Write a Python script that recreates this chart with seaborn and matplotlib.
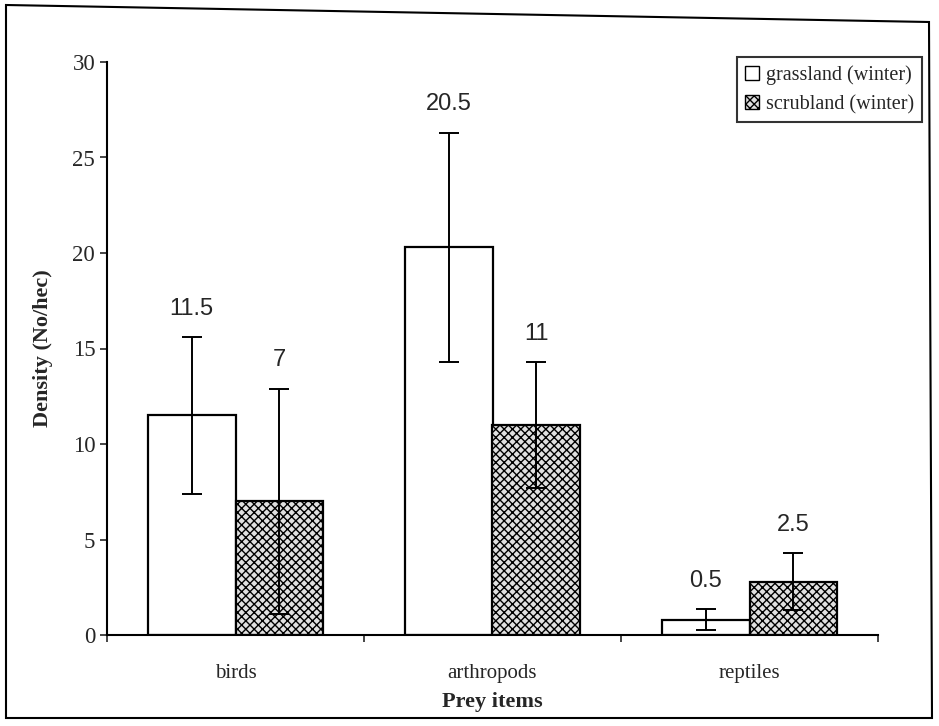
import numpy as np
import pandas as pd
import matplotlib
matplotlib.use("Agg")
import matplotlib.pyplot as plt
import seaborn as sns
from matplotlib.patches import Polygon, Patch

categories = ["birds", "arthropods", "reptiles"]
habitats = ["grassland (winter)", "scrubland (winter)"]
grass_mean = [11.5, 20.3, 0.8]
scrub_mean = [7.0, 11.0, 2.8]
grass_err = [4.1, 6.0, 0.55]
scrub_err = [5.9, 3.3, 1.5]
grass_lab = ["11.5", "20.5", "0.5"]
scrub_lab = ["7", "11", "2.5"]

df = pd.DataFrame({
    "item": categories * 2,
    "habitat": [habitats[0]] * 3 + [habitats[1]] * 3,
    "density": grass_mean + scrub_mean,
})

sns.set_style("white")
plt.rcParams["font.family"] = ["Liberation Serif", "DejaVu Serif"]
plt.rcParams["hatch.color"] = "#444444"
plt.rcParams["hatch.linewidth"] = 1.0

fig = plt.figure(figsize=(9.39, 7.26), dpi=100)
ax = fig.add_axes([107 / 939, 1 - 635 / 726, (878 - 107) / 939, (635 - 62) / 726])

sns.barplot(data=df, x="item", y="density", hue="habitat", order=categories,
            hue_order=habitats, palette=["white", "#e0e0e0"], width=0.68,
            edgecolor="black", linewidth=1.6, ax=ax, legend=False)

bars = ax.patches
for p in bars[3:6]:
    p.set_hatch("xxxx")

errs = grass_err + scrub_err
labs = grass_lab + scrub_lab
for p, e, lab in zip(bars[:6], errs, labs):
    xc = p.get_x() + p.get_width() / 2
    h = p.get_height()
    ax.errorbar(xc, h, yerr=e, fmt="none", ecolor="black", elinewidth=1.4,
                capsize=7, capthick=1.4)
    ax.text(xc, h + e + 0.9, lab, ha="center", va="bottom",
            fontsize=17, family="Liberation Sans")

ax.set_ylim(0, 30)
ax.set_xlim(-0.5, 2.5)
ax.set_yticks(range(0, 31, 5))
ax.set_xticks([-0.5, 0.5, 1.5, 2.5], minor=True)
ax.tick_params(axis="y", labelsize=16.5, length=5, direction="out", left=True, width=1.2)
ax.tick_params(axis="x", which="major", length=0, labelsize=15, pad=21)
ax.tick_params(axis="x", which="minor", length=5, direction="out", bottom=True, width=1.2)
for s in ["top", "right"]:
    ax.spines[s].set_visible(False)
for s in ["left", "bottom"]:
    ax.spines[s].set_linewidth(1.5)
    ax.spines[s].set_color("black")
ax.set_xlabel("Prey items", fontsize=16, fontweight="bold", labelpad=6)
ax.set_ylabel("Density (No/hec)", fontsize=16, fontweight="bold", labelpad=14)

handles = [Patch(facecolor="white", edgecolor="black", label=habitats[0]),
           Patch(facecolor="#e0e0e0", edgecolor="black", hatch="xxxx", label=habitats[1])]
leg = fig.legend(handles=handles, loc="upper right", bbox_to_anchor=(922 / 939, 1 - 57 / 726),
                 fontsize=14.5, frameon=True, fancybox=False, handlelength=0.7,
                 handleheight=0.7, handletextpad=0.35, borderpad=0.4, labelspacing=0.5,
                 borderaxespad=0)
leg.get_frame().set_edgecolor("black")
leg.get_frame().set_linewidth(1.5)

W, H = 939, 726
frame = Polygon([(6 / W, 1 - 5 / H), (929 / W, 1 - 22 / H), (932 / W, 1 - 718 / H),
                 (6 / W, 1 - 718 / H)], closed=True, fill=False, edgecolor="black",
                linewidth=1.5, transform=fig.transFigure)
fig.patches.append(frame)

fig.savefig("out.png", dpi=100)
